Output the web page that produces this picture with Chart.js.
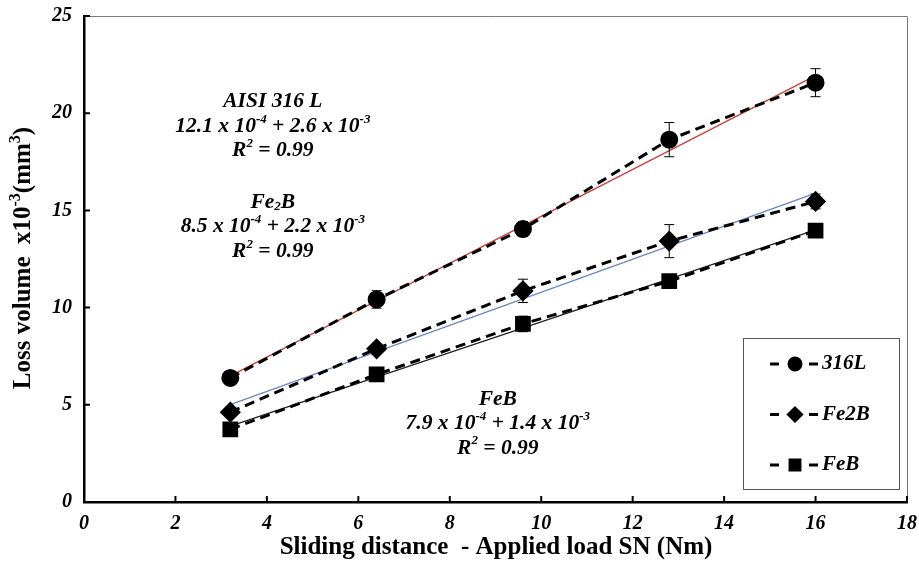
<!DOCTYPE html>
<html>
<head>
<meta charset="utf-8">
<script src="https://cdn.jsdelivr.net/npm/chart.js@4.4.1/dist/chart.umd.min.js"></script>
<style>
	body { margin: 0; background: #fff; }
	#wrap { width: 919px; height: 565px; position: relative; }
</style>
</head>
<body>
<div id="wrap"><canvas id="myChart"></canvas></div>
<script>
const xValues = [3.2, 6.4, 9.6, 12.8, 16];
const seriesNames = ['316L', 'Fe2B', 'FeB'];
const loss316L = [6.38, 10.42, 14.04, 18.64, 21.57];
const lossFe2B = [4.62, 7.88, 10.86, 13.42, 15.46];
const lossFeB = [3.74, 6.56, 9.16, 11.36, 13.96];
const err316L = [0, 0.45, 0.38, 0.88, 0.72];
const errFe2B = [0, 0, 0.6, 0.85, 0.38];
const errFeB = [0, 0, 0.4, 0, 0];
const xTicks = [0, 2, 4, 6, 8, 10, 12, 14, 16, 18];
const yTicks = [0, 5, 10, 15, 20, 25];
const xTitle = 'Sliding distance  - Applied load SN (Nm)';
const yTitle = [['Loss volume  x10', ''], ['-3', 'sup'], ['(mm', ''], ['3', 'sup'], [')', '']];

// equation labels, each line as [text, kind] parts
const notes316L = [
	[['AISI 316 L', '']],
	[['12.1 x 10', ''], ['-4', 'sup'], [' + 2.6 x 10', ''], ['-3', 'sup']],
	[['R', ''], ['2', 'sup'], [' = 0.99', '']],
];
const notesFe2B = [
	[['Fe', ''], ['2', 'sub'], ['B', '']],
	[['8.5 x 10', ''], ['-4', 'sup'], [' + 2.2 x 10', ''], ['-3', 'sup']],
	[['R', ''], ['2', 'sup'], [' = 0.99', '']],
];
const notesFeB = [
	[['FeB', '']],
	[['7.9 x 10', ''], ['-4', 'sup'], [' + 1.4 x 10', ''], ['-3', 'sup']],
	[['R', ''], ['2', 'sup'], [' = 0.99', '']],
];

const serif = '"Liberation Serif", "Times New Roman", serif';

const toPoints = (ys) => xValues.map((x, i) => ({ x, y: ys[i] }));

// least squares line through a series, drawn between first and last x
const fitLine = (ys) => {
	const n = xValues.length;
	const mx = xValues.reduce((a, b) => a + b, 0) / n;
	const my = ys.reduce((a, b) => a + b, 0) / n;
	let sxy = 0, sxx = 0;
	xValues.forEach((x, i) => {
		sxy += (x - mx) * (ys[i] - my);
		sxx += (x - mx) * (x - mx);
	});
	const slope = sxy / sxx;
	const icpt = my - slope * mx;
	const x0 = xValues[0], x1 = xValues[n - 1];
	return [{ x: x0, y: icpt + slope * x0 }, { x: x1, y: icpt + slope * x1 }];
};

const drawRich = (ctx, parts, cx, cy, size, style) => {
	const fontFor = (k) => `${style} ${k ? Math.round(size * 0.62) : size}px ${serif}`;
	let total = 0;
	parts.forEach(([t, k]) => {
		ctx.font = fontFor(k);
		total += ctx.measureText(t).width;
	});
	let x = cx - total / 2;
	ctx.textAlign = 'left';
	ctx.textBaseline = 'middle';
	parts.forEach(([t, k]) => {
		ctx.font = fontFor(k);
		const dy = k === 'sup' ? -size * 0.32 : k === 'sub' ? size * 0.22 : 0;
		ctx.fillText(t, x, cy + dy);
		x += ctx.measureText(t).width;
	});
};

const frameLines = {
	id: 'frameLines',
	beforeDatasetsDraw(chart) {
		const { ctx, chartArea: a } = chart;
		ctx.save();
		ctx.strokeStyle = '#7a7a7a';
		ctx.lineWidth = 1;
		ctx.beginPath();
		ctx.moveTo(a.left, a.top + 0.5);
		ctx.lineTo(a.right + 0.5, a.top + 0.5);
		ctx.lineTo(a.right + 0.5, a.bottom);
		ctx.stroke();
		// tick marks point into the plot on both axes
		const xs = chart.scales.x, ys = chart.scales.y;
		ctx.strokeStyle = '#000';
		ctx.lineWidth = 2;
		ctx.beginPath();
		xTicks.forEach((v) => {
			const px = xs.getPixelForValue(v);
			ctx.moveTo(px, a.bottom);
			ctx.lineTo(px, a.bottom - 6);
		});
		yTicks.forEach((v) => {
			const py = ys.getPixelForValue(v);
			ctx.moveTo(a.left, py);
			ctx.lineTo(a.left + 6, py);
		});
		ctx.stroke();
		ctx.restore();
	},
};

const errorBars = {
	id: 'errorBars',
	afterDatasetsDraw(chart) {
		const { ctx } = chart;
		const ys = chart.scales.y;
		ctx.save();
		ctx.strokeStyle = '#000';
		ctx.lineWidth = 1;
		chart.data.datasets.forEach((ds, di) => {
			if (!ds.errors) return;
			const meta = chart.getDatasetMeta(di);
			meta.data.forEach((pt, i) => {
				const e = ds.errors[i];
				if (!e) return;
				const v = ds.data[i].y;
				const top = ys.getPixelForValue(v + e);
				const bot = ys.getPixelForValue(v - e);
				ctx.beginPath();
				ctx.moveTo(pt.x, top);
				ctx.lineTo(pt.x, bot);
				ctx.moveTo(pt.x - 5, top);
				ctx.lineTo(pt.x + 5, top);
				ctx.moveTo(pt.x - 5, bot);
				ctx.lineTo(pt.x + 5, bot);
				ctx.stroke();
			});
		});
		ctx.restore();
	},
};

const textLayer = {
	id: 'textLayer',
	afterDraw(chart) {
		const { ctx } = chart;
		const xs = chart.scales.x, ys = chart.scales.y;
		ctx.save();
		ctx.fillStyle = '#000';

		// equation blocks, anchored in data units
		const block = (lines, xv, yv) => {
			const cx = xs.getPixelForValue(xv);
			const cy = ys.getPixelForValue(yv);
			lines.forEach((ln, i) => drawRich(ctx, ln, cx, cy + i * 24.5, 21.5, 'italic bold'));
		};
		block(notes316L, 4.13, 20.6);
		block(notesFe2B, 4.13, 15.43);
		block(notesFeB, 9.05, 5.3);

		// axis titles
		drawRich(ctx, [[xTitle, '']], 496, 548, 25, 'bold');
		ctx.save();
		ctx.translate(24, 258);
		ctx.rotate(-Math.PI / 2);
		drawRich(ctx, yTitle, 0, 0, 25, 'bold');
		ctx.restore();

		// legend box
		const lx = 743, ly = 338, lw = 156, lh = 151;
		ctx.strokeStyle = '#555';
		ctx.lineWidth = 1;
		ctx.strokeRect(lx + 0.5, ly + 0.5, lw, lh);
		const series = chart.data.datasets.filter((d) => d.errors);
		series.forEach((ds, i) => {
			const y = ly + 26 + i * 50.5;
			ctx.strokeStyle = '#000';
			ctx.lineWidth = 3;
			ctx.beginPath();
			ctx.moveTo(770, y);
			ctx.lineTo(779, y);
			ctx.moveTo(809, y);
			ctx.lineTo(818, y);
			ctx.stroke();
			Chart.helpers.drawPoint(ctx, {
				pointStyle: ds.pointStyle,
				radius: ds.legendRadius,
				rotation: 0,
				borderWidth: 1,
			}, 795, y);
			ctx.fillStyle = '#000';
			ctx.fill();
			ctx.font = `italic bold 21px ${serif}`;
			ctx.textAlign = 'left';
			ctx.textBaseline = 'middle';
			ctx.fillText(ds.label, 822, y);
		});
		ctx.restore();
	},
};

const ctx = document.getElementById('myChart').getContext('2d');
const myChart = new Chart(ctx, {
	type: 'line',
	data: {
		datasets: [
			{
				label: seriesNames[0],
				data: toPoints(loss316L),
				errors: err316L,
				borderColor: '#000',
				backgroundColor: '#000',
				borderWidth: 3,
				borderDash: [10, 6],
				pointStyle: 'circle',
				pointRadius: 7.5,
				legendRadius: 6,
				order: 1,
			},
			{
				label: seriesNames[1],
				data: toPoints(lossFe2B),
				errors: errFe2B,
				borderColor: '#000',
				backgroundColor: '#000',
				borderWidth: 3,
				borderDash: [10, 6],
				pointStyle: 'rectRot',
				pointRadius: 8.5,
				legendRadius: 6.5,
				order: 1,
			},
			{
				label: seriesNames[2],
				data: toPoints(lossFeB),
				errors: errFeB,
				borderColor: '#000',
				backgroundColor: '#000',
				borderWidth: 3,
				borderDash: [10, 6],
				pointStyle: 'rect',
				pointRadius: 9,
				legendRadius: 7,
				order: 1,
			},
			{ data: fitLine(loss316L), borderColor: '#c8403a', borderWidth: 1.3, pointRadius: 0, order: 2 },
			{ data: fitLine(lossFe2B), borderColor: '#6a86c2', borderWidth: 1.3, pointRadius: 0, order: 2 },
			{ data: fitLine(lossFeB), borderColor: '#222', borderWidth: 1.3, pointRadius: 0, order: 2 },
		],
	},
	options: {
		responsive: true,
		maintainAspectRatio: false,
		animation: false,
		layout: { padding: { top: 16, right: 11, left: 0, bottom: 0 } },
		plugins: {
			legend: { display: false },
			tooltip: { enabled: false },
		},
		scales: {
			x: {
				type: 'linear',
				min: 0,
				max: 18,
				afterBuildTicks: (s) => { s.ticks = xTicks.map((v) => ({ value: v })); },
				afterFit: (s) => {
					s.height = 63;
					s.paddingLeft = 0;
					s.paddingRight = 0;
				},
				grid: { display: false },
				border: { color: '#000', width: 2.5 },
				ticks: {
					padding: 2,
					color: '#000',
					font: { family: serif, size: 20, style: 'italic', weight: 'bold' },
				},
			},
			y: {
				min: 0,
				max: 25,
				afterBuildTicks: (s) => { s.ticks = yTicks.map((v) => ({ value: v })); },
				afterFit: (s) => {
					s.width = 84;
					s.paddingTop = 0;
					s.paddingBottom = 0;
				},
				grid: { display: false },
				border: { color: '#000', width: 2.5 },
				ticks: {
					padding: 4,
					color: '#000',
					font: { family: serif, size: 20, style: 'italic', weight: 'bold' },
				},
			},
		},
	},
	plugins: [frameLines, errorBars, textLayer],
});
</script>
</body>
</html>
